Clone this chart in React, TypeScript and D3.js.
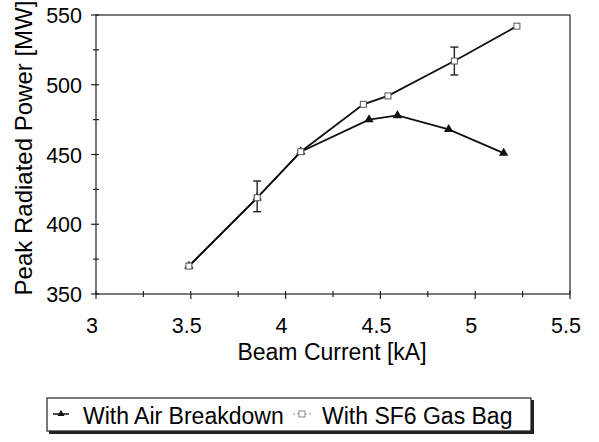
import React, { useEffect, useRef } from "react";
import * as d3 from "d3";

// beam current [kA] and peak power [MW]
const airCurrent = [3.49, 3.85, 4.08, 4.44, 4.59, 4.86, 5.15];
const airPower = [370, 419, 452, 475, 478, 468, 451];
const sf6Current = [3.49, 3.85, 4.08, 4.41, 4.54, 4.89, 5.22];
const sf6Power = [370, 419, 452, 486, 492, 517, 542];
// error bars on SF6 series: [current, low, high]
const sf6Errors = [
  [3.85, 409, 431],
  [4.89, 507, 527],
];
const xTicks = [3, 3.5, 4, 4.5, 5, 5.5];
const yTicks = [350, 400, 450, 500, 550];
const legendLabels = ["With Air Breakdown", "With SF6 Gas Bag"];

const FONT = "'Liberation Sans', Arial, sans-serif";

const App = () => {
  const svgRef = useRef<SVGSVGElement>(null);

  useEffect(() => {
    const svg = d3.select(svgRef.current);
    svg.selectAll("*").remove();

    const x = d3.scaleLinear().domain([3, 5.5]).range([96, 570]);
    const y = d3.scaleLinear().domain([350, 550]).range([294, 15]);

    // frame
    svg.append("rect")
      .attr("x", x(3)).attr("y", y(550))
      .attr("width", x(5.5) - x(3)).attr("height", y(350) - y(550))
      .attr("fill", "none").attr("stroke", "#222").attr("stroke-width", 1.2);

    // x axis ticks (major + minor crossing the axis)
    const xg = svg.append("g");
    d3.range(3, 5.5001, 0.25).forEach((v) => {
      const major = Math.abs(v * 2 - Math.round(v * 2)) < 1e-6;
      xg.append("line")
        .attr("x1", x(v)).attr("x2", x(v))
        .attr("y1", y(350) - 3).attr("y2", y(350) + (major ? 5 : 3))
        .attr("stroke", "#222").attr("stroke-width", 1.2);
    });
    xg.selectAll("text.xt").data(xTicks).enter().append("text")
      .attr("x", (d) => x(d) - 4).attr("y", 333)
      .attr("text-anchor", "middle")
      .attr("font-family", FONT).attr("font-size", 21.5)
      .text((d) => String(d));

    // y axis ticks
    const yg = svg.append("g");
    d3.range(350, 550.001, 25).forEach((v) => {
      const major = v % 50 === 0;
      yg.append("line")
        .attr("x1", x(3) - (major ? 5 : 3)).attr("x2", x(3) + 3)
        .attr("y1", y(v)).attr("y2", y(v))
        .attr("stroke", "#222").attr("stroke-width", 1.2);
    });
    yg.selectAll("text.yt").data(yTicks).enter().append("text")
      .attr("x", 82).attr("y", (d) => y(d) + 8)
      .attr("text-anchor", "end")
      .attr("font-family", FONT).attr("font-size", 21.5)
      .text((d) => String(d));

    // axis titles
    svg.append("text")
      .attr("x", 332).attr("y", 360)
      .attr("text-anchor", "middle")
      .attr("font-family", FONT).attr("font-size", 23)
      .text("Beam Current [kA]");
    svg.append("text")
      .attr("transform", "translate(32,148) rotate(-90)")
      .attr("text-anchor", "middle")
      .attr("font-family", FONT).attr("font-size", 24)
      .text("Peak Radiated Power [MW]");

    const airPts = airCurrent.map((c, i) => [x(c), y(airPower[i])] as [number, number]);
    const sf6Pts = sf6Current.map((c, i) => [x(c), y(sf6Power[i])] as [number, number]);
    const path = d3.line();

    svg.append("path").attr("d", path(airPts))
      .attr("fill", "none").attr("stroke", "#111").attr("stroke-width", 1.8);
    svg.append("path").attr("d", path(sf6Pts))
      .attr("fill", "none").attr("stroke", "#111").attr("stroke-width", 1.8);

    // error bars
    sf6Errors.forEach(([c, lo, hi]) => {
      const g = svg.append("g").attr("stroke", "#222").attr("stroke-width", 1.4);
      g.append("line").attr("x1", x(c)).attr("x2", x(c)).attr("y1", y(lo)).attr("y2", y(hi));
      g.append("line").attr("x1", x(c) - 4).attr("x2", x(c) + 4).attr("y1", y(lo)).attr("y2", y(lo));
      g.append("line").attr("x1", x(c) - 4).attr("x2", x(c) + 4).attr("y1", y(hi)).attr("y2", y(hi));
    });

    const tri = d3.symbol().type(d3.symbolTriangle).size(38);
    svg.selectAll("path.air").data(airPts).enter().append("path")
      .attr("transform", (d) => `translate(${d[0]},${d[1]})`)
      .attr("d", tri()).attr("fill", "#111");
    svg.selectAll("rect.sf6").data(sf6Pts).enter().append("rect")
      .attr("x", (d) => d[0] - 3).attr("y", (d) => d[1] - 3)
      .attr("width", 6).attr("height", 6)
      .attr("fill", "#fff").attr("stroke", "#555").attr("stroke-width", 1);

    // legend
    const lg = svg.append("g");
    lg.append("rect").attr("x", 49).attr("y", 400).attr("width", 485).attr("height", 34)
      .attr("fill", "#222");
    lg.append("rect").attr("x", 47).attr("y", 398).attr("width", 484).attr("height", 33)
      .attr("fill", "#fff").attr("stroke", "#222").attr("stroke-width", 1.2);
    lg.append("line").attr("x1", 53).attr("x2", 69).attr("y1", 414).attr("y2", 414)
      .attr("stroke", "#111").attr("stroke-width", 1.5);
    lg.append("path").attr("transform", "translate(61,414)").attr("d", d3.symbol().type(d3.symbolTriangle).size(22)())
      .attr("fill", "#111");
    lg.append("line").attr("x1", 293).attr("x2", 312).attr("y1", 414).attr("y2", 414)
      .attr("stroke", "#999").attr("stroke-width", 1).attr("stroke-dasharray", "2,2");
    lg.append("rect").attr("x", 299).attr("y", 411).attr("width", 6).attr("height", 6)
      .attr("fill", "#fff").attr("stroke", "#888").attr("stroke-width", 1);
    lg.append("text").attr("x", 83).attr("y", 424)
      .attr("font-family", FONT).attr("font-size", 23).text(legendLabels[0]);
    lg.append("text").attr("x", 322).attr("y", 424)
      .attr("font-family", FONT).attr("font-size", 23).text(legendLabels[1]);
  }, []);

  return (
    <svg
      ref={svgRef}
      width={599}
      height={442}
      style={{ position: "absolute", left: 0, top: 0, background: "#fff" }}
    />
  );
};

export default App;
